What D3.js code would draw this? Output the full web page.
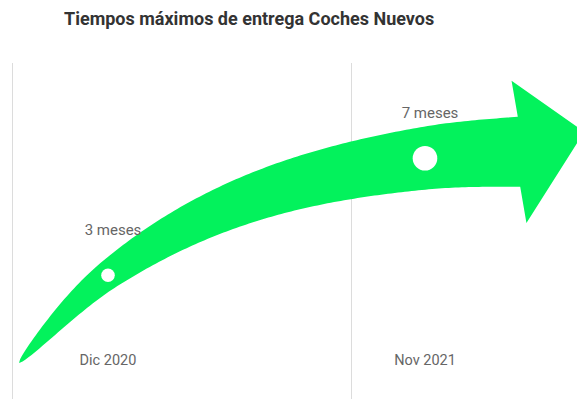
<!DOCTYPE html>
<html>
<head>
<meta charset="utf-8">
<script src="https://cdn.jsdelivr.net/npm/d3@7"></script>
<style>
  body { margin: 0; background: #fff; }
  svg { display: block; font-family: Roboto, "Noto Sans", sans-serif; }
</style>
</head>
<body>
<svg id="chart" width="577" height="399"></svg>
<script>
// Delivery months per period
const categories = ["Dic 2020", "Nov 2021"];
const values = [3, 7];
const valueLabels = ["3 meses", "7 meses"];
const title = "Tiempos máximos de entrega Coches Nuevos";

const W = 577, H = 399;
const svg = d3.select("#chart");

const x = d3.scalePoint().domain(categories).range([108, 425]);
const y = d3.scaleLinear().domain([0, 8]).range([363, 129]);
const r = d3.scaleLinear().domain(d3.extent(values)).range([6.8, 12.3]);
const grid = d3.scaleBand().domain(categories).range([12, 690]);

// Title
svg.append("text")
  .attr("x", 64).attr("y", 25)
  .attr("font-size", 18).attr("font-weight", 700)
  .attr("fill", "#333")
  .text(title);

// Vertical period separators
svg.append("g").selectAll("line")
  .data(categories)
  .join("line")
  .attr("x1", d => grid(d) + 0.5).attr("x2", d => grid(d) + 0.5)
  .attr("y1", 63).attr("y2", H)
  .attr("stroke", "#dcdcdc").attr("stroke-width", 1);

// Trend arrow: centerline through the data points, widening towards the head
const tail = [19, y(0)];
const shaftEnd = [519, y(7.22)];
const anchors = [tail, ...categories.map((c, i) => [x(c), y(values[i])]), shaftEnd];

const guide = svg.append("path")
  .attr("d", d3.line().curve(d3.curveMonotoneX)(anchors))
  .attr("fill", "none").attr("stroke", "none");
const node = guide.node();
const L = node.getTotalLength();
const N = 160;
const maxW = 70;
const upperEdge = [], lowerEdge = [];
let lastT = [1, 0], endP = null;
for (let i = 0; i <= N; i++) {
  const s = L * i / N;
  const p = node.getPointAtLength(s);
  const a = node.getPointAtLength(Math.max(0, s - 1));
  const b = node.getPointAtLength(Math.min(L, s + 1));
  let tx = b.x - a.x, ty = b.y - a.y;
  const len = Math.hypot(tx, ty) || 1;
  tx /= len; ty /= len;
  const nx = ty, ny = -tx;          // normal pointing up-left
  const half = maxW * Math.pow(s / L, 0.6) / 2;
  upperEdge.push([p.x + nx * half, p.y + ny * half]);
  lowerEdge.push([p.x - nx * half, p.y - ny * half]);
  lastT = [tx, ty]; endP = [p.x, p.y];
}

// Arrow head, tilted slightly upward relative to the shaft end
const headTilt = -0.07;
const ht = [lastT[0] * Math.cos(headTilt) - lastT[1] * Math.sin(headTilt),
            lastT[0] * Math.sin(headTilt) + lastT[1] * Math.cos(headTilt)];
const hn = [ht[1], -ht[0]];
const headHalf = 71.5, headLen = 67, tipLift = 13;
const headTop = [endP[0] + hn[0] * headHalf, endP[1] + hn[1] * headHalf];
const headBot = [endP[0] - hn[0] * headHalf, endP[1] - hn[1] * headHalf];
const tip = [endP[0] + ht[0] * headLen + hn[0] * tipLift,
             endP[1] + ht[1] * headLen + hn[1] * tipLift];
const outline = [...upperEdge, headTop, tip, headBot, ...lowerEdge.reverse()];

svg.append("path")
  .attr("d", d3.line()(outline) + "Z")
  .attr("fill", "#03f25c");

// Value markers
svg.append("g").selectAll("circle")
  .data(categories)
  .join("circle")
  .attr("cx", d => x(d))
  .attr("cy", (d, i) => y(values[i]))
  .attr("r", (d, i) => r(values[i]))
  .attr("fill", "#fff");

// Value labels
svg.append("g").selectAll("text")
  .data(categories)
  .join("text")
  .attr("x", d => x(d) + 5)
  .attr("y", (d, i) => y(values[i]) - 40)
  .attr("text-anchor", "middle")
  .attr("font-size", 15)
  .attr("fill", "#666")
  .text((d, i) => valueLabels[i]);

// Period labels
svg.append("g").selectAll("text")
  .data(categories)
  .join("text")
  .attr("x", d => x(d))
  .attr("y", 365)
  .attr("text-anchor", "middle")
  .attr("font-size", 14.5)
  .attr("fill", "#666")
  .text(d => d);
</script>
</body>
</html>
